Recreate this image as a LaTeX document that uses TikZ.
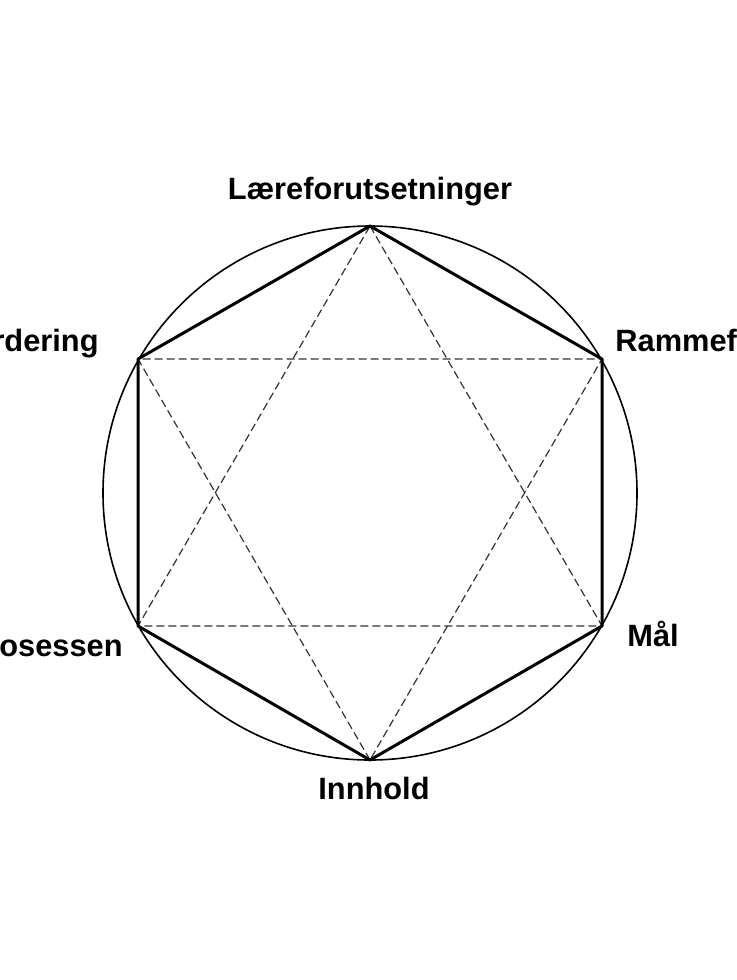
\documentclass[tikz,border=0pt]{standalone}
\usepackage{fontspec}
\setmainfont{Liberation Sans}
\usepackage{tikz}
\tikzset{
	lbl/.style={inner sep=0pt, font=\bfseries\fontsize{15.4}{18}\selectfont},
	kant/.style={line width=1.5pt, line join=round},
	stjerne/.style={line width=0.6pt, dash pattern=on 4pt off 2pt, color=black!80},
}

\begin{document}
\begin{tikzpicture}[x=0.5pt, y=-0.5pt]
			%%%%% START %%%%%
			
			\useasboundingbox (0, 0) rectangle (736, 980);
			\clip (0, 0) rectangle (736, 980);
			
			\coordinate (topp) at (370, 226);
			\coordinate (hoyreOpp) at (602, 359);
			\coordinate (hoyreNed) at (602, 626);
			\coordinate (bunn) at (370, 760);
			\coordinate (venstreNed) at (138, 626);
			\coordinate (venstreOpp) at (138, 359);
			
			\draw[line width=0.8pt] (370, 493) circle (267);
			
			\draw[stjerne] (topp) -- (hoyreNed) -- (venstreNed) -- cycle;
			\draw[stjerne] (bunn) -- (venstreOpp) -- (hoyreOpp) -- cycle;
			
			\draw[kant] (topp) -- (hoyreOpp) -- (hoyreNed) -- (bunn) -- (venstreNed) -- (venstreOpp) -- cycle;
			
			\node[lbl, anchor=base] (laere) at (370, 199) {Læreforutsetninger};
			\node[lbl, anchor=base west] (ramme) at (615, 351) {Rammefaktorer};
			\node[lbl, anchor=base west] (maal) at (627, 646) {Mål};
			\node[lbl, anchor=base] (innhold) at (374, 799) {Innhold};
			\node[lbl, anchor=base east] (prosess) at (123, 656) {Læreprosessen};
			\node[lbl, anchor=base east] (vurdering) at (99, 351) {Vurdering};
			
			%%%%% END %%%%%
\end{tikzpicture}
\end{document}
